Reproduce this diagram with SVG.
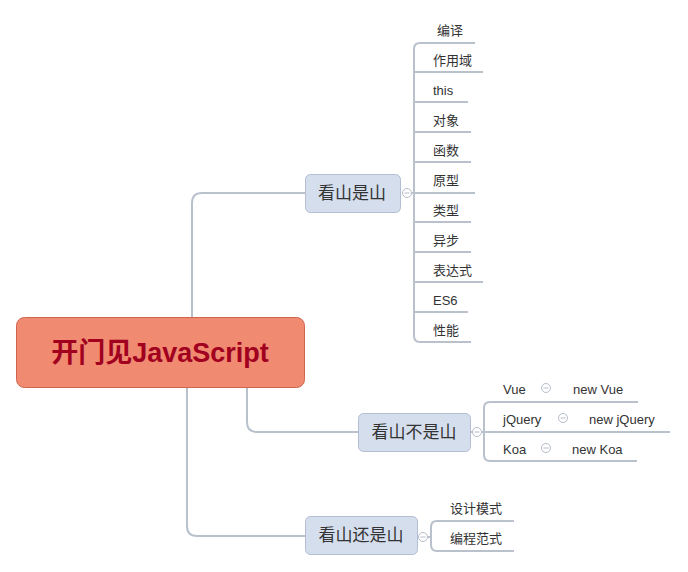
<svg xmlns="http://www.w3.org/2000/svg" width="688" height="572" viewBox="0 0 688 572">
<style>
.ln{fill:none;stroke:#b9c1cd;stroke-width:2}
.main{fill:#d5deed;stroke:#b3bed2;stroke-width:1}
.mt{font-family:"Liberation Sans","Noto Sans CJK SC",sans-serif;font-size:17px;fill:#333;text-anchor:middle}
.lt{font-family:"Liberation Sans","Noto Sans CJK SC",sans-serif;font-size:13px;fill:#333}
.cc{fill:#fff;stroke:#b6bdca;stroke-width:1}
.cm{stroke:#b6bdca;stroke-width:1}
</style>
<defs>
<g id="col"><circle class="cc" r="4.5"/><line class="cm" x1="-2.5" y1="0" x2="2.5" y2="0"/></g>
</defs>
<rect width="688" height="572" fill="#fff"/>
<g id="connectors">
<path class="ln" d="M192 317 V203 Q192 193 202 193 H305"/>
<path class="ln" d="M247 387 V422 Q247 432 257 432 H358"/>
<path class="ln" d="M187 387 V526 Q187 536 197 536 H305"/>
<path class="ln" d="M402 193 H414"/>
<path class="ln" d="M414 193 V49 Q414 43 420 43 H475"/>
<path class="ln" d="M414 193 V336 Q414 342 420 342 H471"/>
<path class="ln" d="M414 72 H483 M414 102 H468 M414 132 H471 M414 162 H471 M414 193 H475 M414 222 H471 M414 252 H471 M414 282 H483 M414 312 H468"/>
<path class="ln" d="M471 432 H484"/>
<path class="ln" d="M484 432 V408 Q484 402 490 402 H638"/>
<path class="ln" d="M484 432 V455 Q484 461 490 461 H637"/>
<path class="ln" d="M484 432 H670"/>
<path class="ln" d="M419 537 H431"/>
<path class="ln" d="M431 537 V527 Q431 521 437 521 H514"/>
<path class="ln" d="M431 537 V545 Q431 551 437 551 H514"/>
</g>
<g id="root">
<rect x="16.5" y="317.5" width="288" height="70" rx="8" fill="#f08a70" stroke="#d0644e"/>
<text x="160" y="362" font-family="'Liberation Sans','Noto Sans CJK SC',sans-serif" font-size="27" font-weight="bold" fill="#a1001f" text-anchor="middle">开门见JavaScript</text>
</g>
<g id="n1">
<rect class="main" x="305.5" y="174.5" width="95" height="38" rx="5"/>
<text class="mt" x="352" y="199">看山是山</text>
<use href="#col" x="407" y="193"/>
</g>
<g id="n1-leaves">
<text class="lt" x="437" y="35">编译</text>
<text class="lt" x="433" y="65">作用域</text>
<text class="lt" x="433" y="95">this</text>
<text class="lt" x="433" y="125">对象</text>
<text class="lt" x="433" y="155">函数</text>
<text class="lt" x="433" y="185">原型</text>
<text class="lt" x="433" y="215">类型</text>
<text class="lt" x="433" y="245">异步</text>
<text class="lt" x="433" y="275">表达式</text>
<text class="lt" x="433" y="305">ES6</text>
<text class="lt" x="433" y="335">性能</text>
</g>
<g id="n2">
<rect class="main" x="358.5" y="413.5" width="112" height="38" rx="5"/>
<text class="mt" x="414" y="438">看山不是山</text>
<use href="#col" x="477" y="432"/>
</g>
<g id="n2-leaves">
<text class="lt" x="503" y="394">Vue</text>
<use href="#col" x="546" y="388"/>
<text class="lt" x="573" y="394">new Vue</text>
<text class="lt" x="503" y="424">jQuery</text>
<use href="#col" x="563" y="418"/>
<text class="lt" x="589" y="424">new jQuery</text>
<text class="lt" x="503" y="454">Koa</text>
<use href="#col" x="546" y="448"/>
<text class="lt" x="572" y="454">new Koa</text>
</g>
<g id="n3">
<rect class="main" x="305.5" y="516.5" width="112" height="38" rx="5"/>
<text class="mt" x="361" y="541">看山还是山</text>
<use href="#col" x="423" y="537"/>
</g>
<g id="n3-leaves">
<text class="lt" x="450" y="513">设计模式</text>
<text class="lt" x="450" y="543">编程范式</text>
</g>
</svg>
